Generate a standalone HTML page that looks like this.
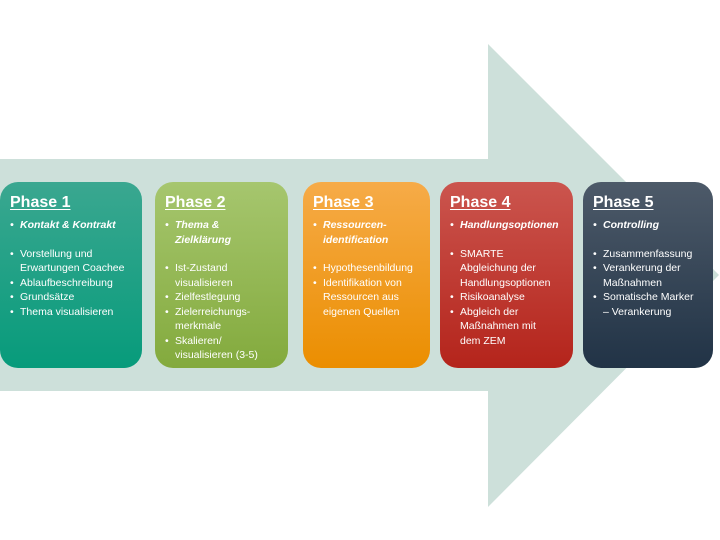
<!DOCTYPE html>
<html><head><meta charset="utf-8"><style>
body{margin:0;width:720px;height:540px;background:#fff;position:relative;overflow:hidden;font-family:"Liberation Sans",sans-serif;}
.b{position:absolute;top:182px;height:186px;border-radius:18px;color:#fff;box-sizing:border-box;padding:12px 4px 0 10px;}
h2{margin:0 0 6px 0;font-size:16px;font-weight:bold;text-decoration:underline;text-underline-offset:2px;}
ul{margin:0;padding:0;list-style:none;font-size:10.5px;line-height:14.5px;white-space:nowrap;}
li{position:relative;padding-left:10px;}
li:before{content:"•";position:absolute;left:0;}
li.s{font-weight:bold;font-style:italic;margin-bottom:14px;}
</style></head><body>
<svg width="720" height="540" style="position:absolute;left:0;top:0">
<polygon points="0,159 488,159 488,44 719,275 488,507 488,391 0,391" fill="#cde0da"/>
</svg>
<div class="b" style="left:0;width:142px;background:linear-gradient(#3aa790,#079b7b)">
<h2>Phase 1</h2><ul><li class="s">Kontakt &amp; Kontrakt</li><li>Vorstellung und<br>Erwartungen Coachee</li><li>Ablaufbeschreibung</li><li>Grundsätze</li><li>Thema visualisieren</li></ul></div>
<div class="b" style="left:155px;width:133px;background:linear-gradient(#a6c66e,#83aa3d)">
<h2>Phase 2</h2><ul><li class="s">Thema &amp;<br>Zielklärung</li><li>Ist-Zustand<br>visualisieren</li><li>Zielfestlegung</li><li>Zielerreichungs-<br>merkmale</li><li>Skalieren/<br>visualisieren (3-5)</li></ul></div>
<div class="b" style="left:303px;width:127px;background:linear-gradient(#f6ab48,#eb8e00)">
<h2>Phase 3</h2><ul><li class="s">Ressourcen-<br>identification</li><li>Hypothesenbildung</li><li>Identifikation von<br>Ressourcen aus<br>eigenen Quellen</li></ul></div>
<div class="b" style="left:440px;width:133px;background:linear-gradient(#cb554e,#b4241b)">
<h2>Phase 4</h2><ul><li class="s">Handlungsoptionen</li><li>SMARTE<br>Abgleichung der<br>Handlungsoptionen</li><li>Risikoanalyse</li><li>Abgleich der<br>Maßnahmen mit<br>dem ZEM</li></ul></div>
<div class="b" style="left:583px;width:130px;background:linear-gradient(#4d5a69,#213346)">
<h2>Phase 5</h2><ul><li class="s">Controlling</li><li>Zusammenfassung</li><li>Verankerung der<br>Maßnahmen</li><li>Somatische Marker<br>– Verankerung</li></ul></div>
</body></html>
